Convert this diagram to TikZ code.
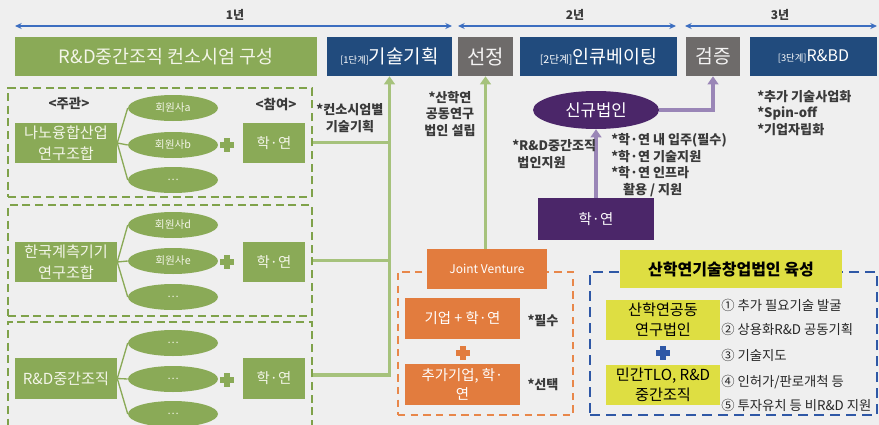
\documentclass[tikz,border=0pt]{standalone}
\usepackage{fontspec}
\setmainfont{Noto Sans CJK KR}
\usetikzlibrary{arrows.meta,fit,shapes.geometric}
\definecolor{bgc}{HTML}{EFEFEF}
\definecolor{gbox}{HTML}{8AAA57}
\definecolor{gtext}{HTML}{F3F5E8}
\definecolor{glinec}{HTML}{A6C27C}
\definecolor{gdash}{HTML}{7FA24A}
\definecolor{navy}{HTML}{214B7D}
\definecolor{gry}{HTML}{6E6B6A}
\definecolor{orng}{HTML}{E27C3E}
\definecolor{odash}{HTML}{E8874A}
\definecolor{purp}{HTML}{4B2669}
\definecolor{lpurp}{HTML}{9A86B7}
\definecolor{yel}{HTML}{DEDE42}
\definecolor{bdash}{HTML}{2F58A6}
\definecolor{tarrow}{HTML}{3C6EC0}
\definecolor{annoc}{HTML}{3A3A3A}
\begin{document}
\begin{tikzpicture}[x=0.75pt,y=-0.75pt,
  bx/.style 2 args={minimum width=#1*0.75pt, minimum height=#2*0.75pt},
  rbox/.style={inner sep=0pt, align=center},
  gb/.style={rbox, fill=gbox, text=gtext},
  nb/.style={rbox, fill=navy, text=white},
  grb/.style={rbox, fill=gry, text=white!92!gry},
  ob/.style={rbox, fill=orng, text=white},
  pb/.style={rbox, fill=purp, text=white},
  yb/.style={rbox, fill=yel, text=black},
  gell/.style={ellipse, fill=gbox, text=gtext, minimum width=67.5pt, minimum height=19.5pt, inner sep=0pt, font=\fontsize{8}{9}\selectfont},
  gpanel/.style={rbox, draw=gdash, line width=1.5pt, dash pattern=on 6pt off 3.5pt},
  opanel/.style={rbox, draw=odash, line width=1.2pt, dash pattern=on 5.5pt off 4pt},
  bpanel/.style={rbox, draw=bdash, line width=1.5pt, dash pattern=on 7.5pt off 4.5pt},
  anno/.style={text=annoc, font=\fontsize{9.8}{12.5}\selectfont\bfseries, inner sep=0pt},
  yrlab/.style={text=annoc, font=\fontsize{9}{10}\selectfont\bfseries, inner sep=0pt},
  tarr/.style={draw=tarrow, line width=0.8pt, {Stealth[length=5pt,width=4.5pt]}-{Stealth[length=5pt,width=4.5pt]}},
  fan/.style={draw=gbox, line width=1pt},
  gconn/.style={draw=glinec, line width=2.3pt},
  garr/.style={gconn, -{Triangle[length=6pt,width=8pt]}},
  parr/.style={draw=lpurp, line width=2.3pt, -{Triangle[length=6pt,width=8pt]}},
  plussign/.style={minimum size=10.5pt, inner sep=0pt, path picture={
     \fill[#1] ([xshift=-1.9pt]path picture bounding box.north) rectangle ([xshift=1.9pt]path picture bounding box.south);
     \fill[#1] ([yshift=-1.9pt]path picture bounding box.west) rectangle ([yshift=1.9pt]path picture bounding box.east);}},
  listitem/.style={text=black!85, font=\fontsize{10}{11}\selectfont, inner sep=0pt, anchor=west}
]
\useasboundingbox (0,0) rectangle (879,425);
\clip (0,0) rectangle (879,425);
\fill[bgc] (0,0) rectangle (879,425);

% ---- timeline arrows
\coordinate (a1l) at (15,26); \coordinate (a1r) at (452,26);
\coordinate (a2l) at (458,26); \coordinate (a2r) at (676,26);
\coordinate (a3l) at (685,26); \coordinate (a3r) at (877,26);
\draw[tarr] (a1l) -- (a1r);
\draw[tarr] (a2l) -- (a2r);
\draw[tarr] (a3l) -- (a3r);
\node[yrlab] (y1) at (235,15) {1년};
\node[yrlab] (y2) at (575,15) {2년};
\node[yrlab] (y3) at (780,15) {3년};

% ---- top boxes
\node[gb, bx={302}{39}, font=\fontsize{13.8}{15}\selectfont] (t0) at (166,56.5) {R\&D중간조직 컨소시엄 구성};
\node[nb, bx={125}{39}] (t1) at (389.5,56.5) {{\fontsize{7}{8}\selectfont [1단계]}{\fontsize{14.2}{15}\selectfont 기술기획}};
\node[grb, bx={55}{39}, font=\fontsize{15}{16}\selectfont] (t2) at (485.5,56.5) {선정};
\node[nb, bx={157}{39}] (t3) at (598.5,56.5) {{\fontsize{8}{9}\selectfont [2단계]}{\fontsize{13.8}{15}\selectfont 인큐베이팅}};
\node[grb, bx={54}{39}, font=\fontsize{14.5}{16}\selectfont] (t4) at (713,56.5) {검증};
\node[nb, bx={127}{39}] (t5) at (813.5,56.5) {{\fontsize{7}{8}\selectfont [3단계]}{\fontsize{12}{14}\selectfont R\&BD}};

% ---- left panels
\node[gpanel, fit={(8,88)(312,197)}] (p1) {};
\node[gpanel, fit={(8,205)(312,316)}] (p2) {};
\node[gpanel, fit={(8,322)(312,428)}] (p3) {};

\node[anno, font=\fontsize{10}{11}\selectfont\bfseries] (lab1) at (69,104) {<주관>};
\node[anno, font=\fontsize{10}{11}\selectfont\bfseries] (lab2) at (276,105) {<참여>};

% panel 1
\node[gb, bx={102}{40}, font=\fontsize{11.4}{16}\selectfont] (org1) at (66,143) {나노융합산업\\연구조합};
\node[gell] (e1a) at (173,108) {회원사a};
\node[gell] (e1b) at (173,145) {회원사b};
\node[gell] (e1c) at (173,180) {…};
\node[plussign=gbox] (pl1) at (227,145) {};
\node[gb, bx={62}{40}, font=\fontsize{10.8}{12}\selectfont] (s1) at (274,143) {학·연};
\draw[fan] (org1.east) -- (e1a.west);
\draw[fan] (org1.east) -- (e1b.west);
\draw[fan] (org1.east) -- (e1c.west);

% panel 2
\node[gb, bx={102}{40}, font=\fontsize{11.4}{16}\selectfont] (org2) at (66,262) {한국계측기기\\연구조합};
\node[gell] (e2a) at (173,225) {회원사d};
\node[gell] (e2b) at (173,261) {회원사e};
\node[gell] (e2c) at (173,297) {…};
\node[plussign=gbox] (pl2) at (227,262) {};
\node[gb, bx={62}{40}, font=\fontsize{10.8}{12}\selectfont] (s2) at (274,262) {학·연};
\draw[fan] (org2.east) -- (e2a.west);
\draw[fan] (org2.east) -- (e2b.west);
\draw[fan] (org2.east) -- (e2c.west);

% panel 3
\node[gb, bx={102}{41}, font=\fontsize{11.4}{16}\selectfont] (org3) at (66,378.5) {R\&D중간조직};
\node[gell] (e3a) at (173,343) {…};
\node[gell] (e3b) at (173,379) {…};
\node[gell] (e3c) at (173,414) {…};
\node[plussign=gbox] (pl3) at (227,380) {};
\node[gb, bx={62}{41}, font=\fontsize{10.8}{12}\selectfont] (s3) at (274,378.5) {학·연};
\draw[fan] (org3.east) -- (e3a.west);
\draw[fan] (org3.east) -- (e3b.west);
\draw[fan] (org3.east) -- (e3c.west);

% green connectors
\draw[gconn] (p1.east) -- (p1.east -| t1.south);
\draw[gconn] (p2.east) -- (p2.east -| t1.south);
\draw[garr] (p3.east) -| (t1.south);

\node[anno, align=center] (n1) at (350,118) {*컨소시엄별\\기술기획};
\node[anno, align=center] (n2) at (450,114) {*산학연\\공동연구\\법인 설립};

% ---- orange Joint Venture group
\node[opanel, fit={(398,272)(573,415)}] (op) {};
\node[ob, bx={120}{40}, font=\fontsize{9}{10}\selectfont] (jv) at (487,269) {Joint Venture};
\node[ob, bx={115}{41}, font=\fontsize{10.8}{12}\selectfont] (o1) at (462.5,318.5) {기업 + 학·연};
\node[plussign=orng] (pl4) at (463,353) {};
\node[ob, bx={115}{41}, font=\fontsize{10.8}{14}\selectfont] (o2) at (462.5,384.5) {추가기업, 학·\\연};
\node[anno] (nf) at (543,321) {*필수};
\node[anno] (ns) at (543,385) {*선택};
\draw[garr] (jv.north -| t2.south) -- (t2.south);

% ---- purple group
\node[ellipse, fill=purp, text=white, minimum width=94.5pt, minimum height=28.5pt, inner sep=0pt, font=\fontsize{12.5}{13}\selectfont] (ne) at (596,110) {신규법인};
\node[pb, bx={116}{42}, font=\fontsize{10.8}{12}\selectfont] (hy) at (596,219) {학·연};
\draw[parr] (hy.north) -- (ne.south);
\draw[parr] (ne.east) -| (t4.south);
\node[anno, anchor=west, align=left] (n3) at (512,154) {*R\&D중간조직\\\hspace*{0.4em}법인지원};
\node[anno, anchor=west, align=left] (n4) at (611,165) {*학·연 내 입주(필수)\\*학·연 기술지원\\*학·연 인프라\\\hspace*{0.9em}활용 / 지원};
\node[anno, anchor=west, align=left] (n5) at (757,113) {*추가 기술사업화\\*Spin-off\\*기업자립화};

% ---- right yellow group
\node[bpanel, fit={(590,272)(877,415)}] (bp) {};
\node[yb, bx={222}{38}, font=\fontsize{12}{13}\selectfont\bfseries] (yt) at (731,269) {산학연기술창업법인 육성};
\node[yb, bx={114}{40}, font=\fontsize{11.4}{15}\selectfont] (yy1) at (663,320) {산학연공동\\연구법인};
\node[plussign=bdash] (pl5) at (663,353) {};
\node[yb, bx={114}{40}, font=\fontsize{11.4}{15}\selectfont] (yy2) at (663,385) {민간TLO, R\&D\\중간조직};
\node[listitem] (li1) at (721,305) {① 추가 필요기술 발굴};
\node[listitem] (li2) at (721,329) {② 상용화R\&D 공동기획};
\node[listitem] (li3) at (721,355) {③ 기술지도};
\node[listitem] (li4) at (721,382) {④ 인허가/판로개척 등};
\node[listitem] (li5) at (721,405) {⑤ 투자유치 등 비R\&D 지원};
\end{tikzpicture}
\end{document}
